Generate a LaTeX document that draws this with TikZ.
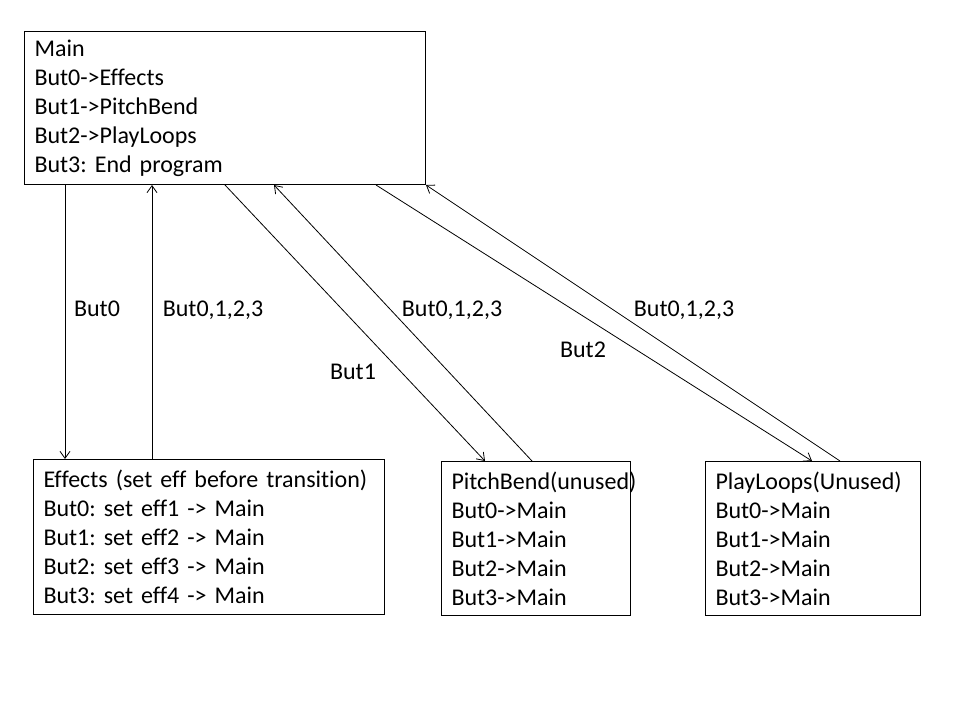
\documentclass[tikz,border=0pt]{standalone}
\usepackage{fontspec}
\setmainfont[Ligatures=NoCommon]{Carlito}
\usetikzlibrary{arrows.meta,calc}
\newcommand{\boxfont}{\fontsize{24pt}{29pt}\selectfont\spaceskip=0.2em\relax}
\begin{document}
\frenchspacing
\begin{tikzpicture}[x=1pt,y=-1pt,
  statebox/.style={draw=black, line width=1pt, anchor=north west, align=left,
    inner xsep=10pt, inner ysep=0pt, font=\boxfont},
  trans/.style={line width=0.8pt, -{Straight Barb[length=7pt,width=10pt]}},
  lbl/.style={font=\boxfont, inner sep=0pt, anchor=base}]
\useasboundingbox[fill=white] (0,0) rectangle (960,720);

% states
\node[statebox, text width=381pt, minimum height=153pt] (main) at (24,31)
  {Main\\But0->Effects\\But1->PitchBend\\But2->PlayLoops\\But3: End program};
\node[statebox, text width=331pt, minimum height=155pt] (eff) at (33,459)
  {Effects (set eff before transition)\\But0: set eff1 -> Main\\But1: set eff2 -> Main\\But2: set eff3 -> Main\\But3: set eff4 -> Main};
\node[statebox, text width=169pt, minimum height=154pt] (pitch) at (441,461)
  {PitchBend(unused)\\But0->Main\\But1->Main\\But2->Main\\But3->Main};
\node[statebox, text width=195pt, minimum height=154pt] (loops) at (705,461)
  {PlayLoops(Unused)\\But0->Main\\But1->Main\\But2->Main\\But3->Main};

% transitions
\draw[trans] ($(main.south west)+(41,0)$) -- ($(eff.north west)+(32,0)$);
\draw[trans] ($(eff.north west)+(119,0)$) -- ($(main.south west)+(128,0)$);
\draw[trans] ($(main.south west)+(201,0)$) -- ($(pitch.north west)+(44,0)$);
\draw[trans] ($(pitch.north west)+(91,0)$) -- ($(main.south west)+(250,0)$);
\draw[trans] ($(main.south west)+(352,0)$) -- ($(loops.north west)+(107,0)$);
\draw[trans] ($(loops.north west)+(135,0)$) -- (main.south east);

% transition labels
\node[lbl] (l0) at (97,316) {But0};
\node[lbl] (l1) at (213,316) {But0,1,2,3};
\node[lbl] (l2) at (452,316) {But0,1,2,3};
\node[lbl] (l3) at (353,379) {But1};
\node[lbl] (l4) at (583,357) {But2};
\node[lbl] (l5) at (684,316) {But0,1,2,3};
\end{tikzpicture}
\end{document}
